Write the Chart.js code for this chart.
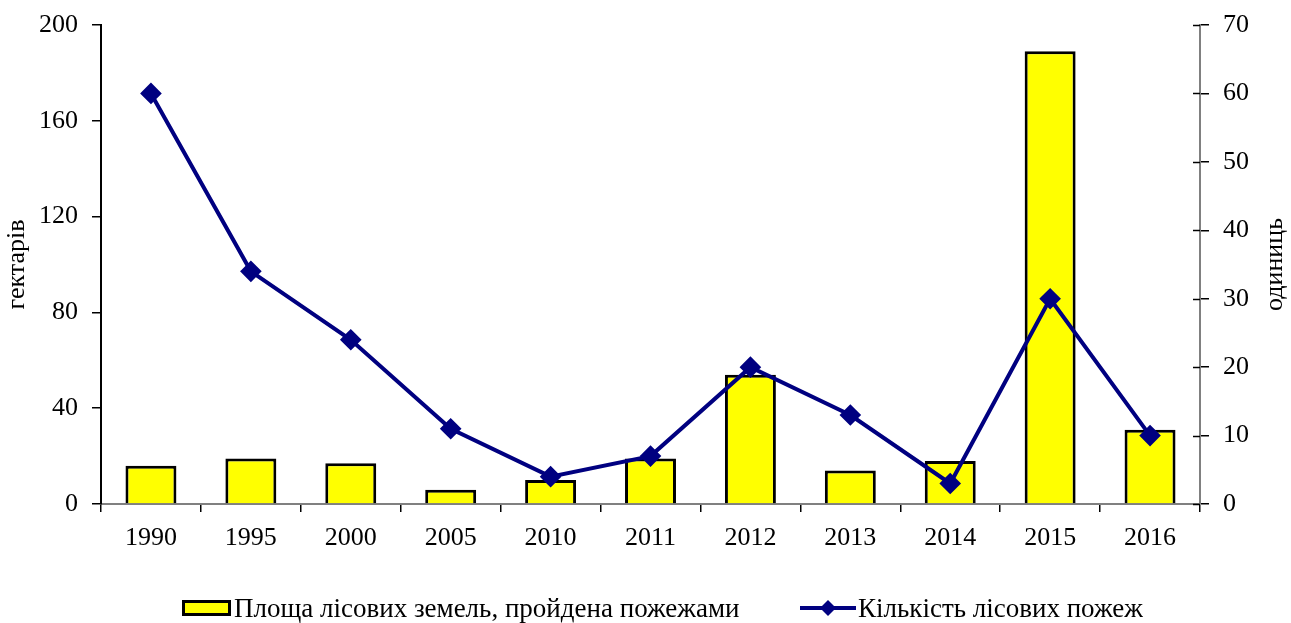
<!DOCTYPE html>
<html>
<head>
<meta charset="utf-8">
<script src="https://cdn.jsdelivr.net/npm/chart.js@4"></script>
<style>
    body { margin: 0; background: #fff; }
    #wrap { position: relative; width: 1291px; height: 623px; }
    #legend {
        position: absolute; left: 0; top: 594px; width: 1291px; height: 28px;
        font-family: "Liberation Serif", "Times New Roman", serif; font-size: 27px; color: #000;
    }
    .item { position: absolute; top: 0; display: flex; align-items: center; white-space: nowrap; line-height: 28px; }
    .item svg { margin-right: 2px; }
</style>
</head>
<body>
<div id="wrap">
    <canvas id="fireChart" width="1291" height="623"></canvas>
    <div id="legend">
        <div class="item" style="left:182px">
            <svg width="50" height="20"><rect x="1.5" y="3.5" width="46" height="13" fill="#ffff00" stroke="#000" stroke-width="3"/></svg>
            <span id="barLabel"></span>
        </div>
        <div class="item" style="left:800px">
            <svg width="56" height="20"><line x1="0" y1="10" x2="56" y2="10" stroke="#000080" stroke-width="4"/><polygon points="28,2 36,10 28,18 20,10" fill="#000080"/></svg>
            <span id="lineLabel"></span>
        </div>
    </div>
</div>
<script>
const years = ['1990', '1995', '2000', '2005', '2010', '2011', '2012', '2013', '2014', '2015', '2016'];
const burnedArea = [16, 19, 17, 6, 10, 19, 54, 14, 18, 189, 31];   // гектарів
const fireCount = [60, 34, 24, 11, 4, 7, 20, 13, 3, 30, 10];        // одиниць
const areaTicks = [0, 40, 80, 120, 160, 200];
const countTicks = [0, 10, 20, 30, 40, 50, 60, 70];

const barName = 'Площа лісових земель, пройдена пожежами';
const lineName = 'Кількість лісових пожеж';
const rightTitle = 'одиниць';
const fontFamily = '"Liberation Serif", "Times New Roman", serif';

document.getElementById('barLabel').textContent = barName;
document.getElementById('lineLabel').textContent = lineName;

Chart.defaults.font.family = fontFamily;
Chart.defaults.font.size = 26;
Chart.defaults.color = '#000';

// right axis: ticks reach a bit into the plot, title reads bottom-to-top like the left one
const rightAxisExtras = {
    id: 'rightAxisExtras',
    afterDraw(chart) {
        const ctx = chart.ctx;
        const y1 = chart.scales.y1;
        ctx.save();
        ctx.strokeStyle = '#000';
        ctx.lineWidth = 1.5;
        y1.ticks.forEach(t => {
            const y = Math.round(y1.getPixelForValue(t.value)) + 0.5;
            ctx.beginPath();
            ctx.moveTo(y1.left - 7, y);
            ctx.lineTo(y1.left, y);
            ctx.stroke();
        });
        ctx.translate(y1.right - 16, (y1.top + y1.bottom) / 2);
        ctx.rotate(-Math.PI / 2);
        ctx.font = '26px ' + fontFamily;
        ctx.fillStyle = '#000';
        ctx.textAlign = 'center';
        ctx.textBaseline = 'middle';
        ctx.fillText(rightTitle, 0, 0);
        ctx.restore();
    }
};

const ctx = document.getElementById('fireChart').getContext('2d');
new Chart(ctx, {
    data: {
        labels: years,
        datasets: [{
            type: 'line',
            label: lineName,
            data: fireCount,
            yAxisID: 'y1',
            borderColor: '#000080',
            backgroundColor: '#000080',
            borderWidth: 4,
            pointStyle: 'rectRot',
            pointRadius: 8,
            pointHoverRadius: 8,
            tension: 0,
            order: 0
        }, {
            type: 'bar',
            label: barName,
            data: burnedArea,
            yAxisID: 'y',
            backgroundColor: '#ffff00',
            borderColor: '#000',
            borderWidth: 3,
            barPercentage: 0.51,
            categoryPercentage: 1,
            order: 1
        }]
    },
    options: {
        responsive: false,
        animation: false,
        layout: { padding: { left: 0, right: 0, top: 25, bottom: 69 } },
        plugins: {
            legend: { display: false },
            tooltip: { enabled: false }
        },
        scales: {
            x: {
                offset: true,
                grid: {
                    offset: true,
                    drawOnChartArea: false,
                    tickLength: 8,
                    color: '#000',
                    lineWidth: 1.5
                },
                border: { color: '#808080', width: 2 },
                ticks: { padding: 11 },
                afterFit(scale) { scale.height = 50; }
            },
            y: {
                position: 'left',
                min: 0,
                max: 200,
                afterBuildTicks(scale) { scale.ticks = areaTicks.map(v => ({ value: v })); },
                grid: { drawOnChartArea: false, tickLength: 9, color: '#000', lineWidth: 1.5 },
                border: { color: '#000', width: 2 },
                ticks: { padding: 14, font: { lineHeight: 0.6 } },
                title: { display: true, text: 'гектарів', padding: { top: 2, bottom: 0 } },
                afterFit(scale) { scale.width = 101; }
            },
            y1: {
                position: 'right',
                min: 0,
                max: 70,
                afterBuildTicks(scale) { scale.ticks = countTicks.map(v => ({ value: v })); },
                grid: { drawOnChartArea: false, tickLength: 9, color: '#000', lineWidth: 1.5 },
                border: { color: '#808080', width: 2 },
                ticks: { padding: 14, font: { lineHeight: 0.6 } },
                afterFit(scale) { scale.width = 91; }
            }
        }
    },
    plugins: [rightAxisExtras]
});
</script>
</body>
</html>
